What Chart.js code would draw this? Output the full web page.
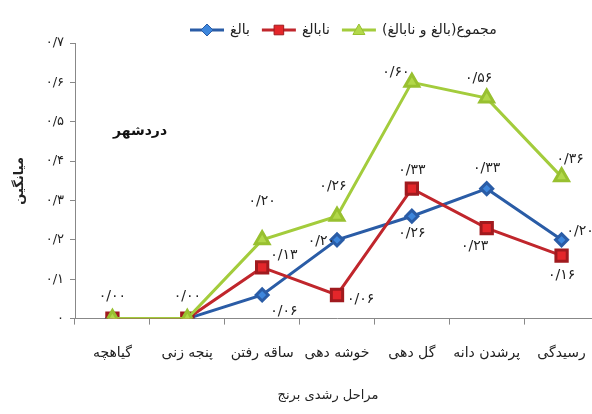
<!DOCTYPE html>
<html>
<head>
<meta charset="utf-8">
<script src="https://cdn.jsdelivr.net/npm/chart.js@4/dist/chart.umd.min.js"></script>
<style>
html,body{margin:0;padding:0;background:#fff;overflow:hidden;}
#wrap{width:592px;height:414px;overflow:hidden;}
</style>
</head>
<body>
<div id="wrap"><canvas id="c" width="610" height="414"></canvas></div>
<script>
const categories = ['گیاهچه','پنجه زنی','ساقه رفتن','خوشه دهی','گل دهی','پرشدن دانه','رسیدگی'];
const matureValues = [0, 0, 0.06, 0.20, 0.26, 0.33, 0.20];
const immatureValues = [0, 0, 0.13, 0.06, 0.33, 0.23, 0.16];
const totalValues = [0, 0, 0.20, 0.26, 0.60, 0.56, 0.36];
const seriesNames = ['بالغ','نابالغ','مجموع(بالغ و نابالغ)'];
const yTicks = [0, 0.1, 0.2, 0.3, 0.4, 0.5, 0.6, 0.7];
const yTitle = 'میانگین';
const xTitle = 'مراحل رشدی برنج';
const placeLabel = 'دردشهر';

const FONT = "'DejaVu Sans', 'Noto Sans', sans-serif";
const fa = s => String(s).replace(/\d/g, d => '۰۱۲۳۴۵۶۷۸۹'[d]);
const fmtVal = v => fa(v.toFixed(2).replace('.', '/'));
const fmtTick = v => v === 0 ? '۰' : fa(v.toFixed(1).replace('.', '/'));

const colors = {
  blueLine: '#2a5ca6', blueFill: '#3d86dc',
  redLine: '#c0262c', redFill: '#e4262a',
  greenLine: '#a3cc3c', greenFill: '#b2d84a'
};

// label placement per series (dx, dy, align) — style only
const labelPlacement = {
  0: [null, null, [8, 16, 'left'], [-2, 2, 'right'], [0, 17, 'center'], [0, -20, 'center'], [5, -8, 'left']],
  1: [null, null, [8, -12, 'left'], [10, 4, 'left'], [0, -18, 'center'], [-12, 18, 'center'], [0, 20, 'center']],
  2: [[0, -22, 'center'], [0, -22, 'center'], [0, -38, 'center'], [-4, -30, 'center'], [-16, -10, 'center'], [-8, -20, 'center'], [-5, -18, 'left']]
};

const labelPlugin = {
  id: 'valueLabels',
  afterDatasetsDraw(chart) {
    const ctx = chart.ctx;
    ctx.save();
    ctx.font = "14px " + FONT;
    ctx.fillStyle = '#222';
    ctx.textBaseline = 'middle';
    chart.data.datasets.forEach((ds, i) => {
      const meta = chart.getDatasetMeta(i);
      meta.data.forEach((pt, j) => {
        const p = labelPlacement[i][j];
        if (!p) return;
        ctx.textAlign = p[2];
        ctx.fillText(fmtVal(ds.data[j]), pt.x + p[0], pt.y + p[1]);
      });
    });
    ctx.font = "bold 14px " + FONT;
    ctx.textAlign = 'center';
    ctx.fillStyle = '#111';
    ctx.fillText(placeLabel, 140, 131);
    ctx.font = "13px " + FONT;
    ctx.fillStyle = '#222';
    ctx.direction = 'rtl';
    ctx.fillText(xTitle, 328, 396);
    ctx.restore();
  }
};

function drawMarker(ctx, style, x, y, r, fill, stroke) {
  ctx.fillStyle = fill; ctx.strokeStyle = stroke; ctx.lineWidth = 1;
  ctx.beginPath();
  if (style === 'rectRot') {
    ctx.moveTo(x, y - r); ctx.lineTo(x + r, y); ctx.lineTo(x, y + r); ctx.lineTo(x - r, y); ctx.closePath();
  } else if (style === 'rect') {
    ctx.rect(x - r * 0.8, y - r * 0.8, r * 1.6, r * 1.6);
  } else {
    ctx.moveTo(x, y - r); ctx.lineTo(x + r, y + r * 0.75); ctx.lineTo(x - r, y + r * 0.75); ctx.closePath();
  }
  ctx.fill(); ctx.stroke();
}

const legendPlugin = {
  id: 'customLegend',
  afterDraw(chart) {
    const ctx = chart.ctx;
    ctx.save();
    ctx.font = "14px " + FONT;
    ctx.textBaseline = 'middle';
    const y = 30;
    let x = 190;
    chart.data.datasets.forEach((ds, i) => {
      ctx.strokeStyle = ds.borderColor; ctx.lineWidth = 3;
      ctx.beginPath(); ctx.moveTo(x, y); ctx.lineTo(x + 34, y); ctx.stroke();
      drawMarker(ctx, ds.pointStyle, x + 17, y, 6, ds.pointBackgroundColor, ds.pointBorderColor);
      ctx.fillStyle = '#222';
      ctx.direction = 'rtl';
      const w = ctx.measureText(ds.label).width;
      ctx.textAlign = 'right';
      ctx.fillText(ds.label, x + 40 + w, y);
      x += 40 + w + 12;
    });
    ctx.restore();
  }
};

new Chart(document.getElementById('c'), {
  type: 'line',
  data: {
    labels: categories,
    datasets: [
      { label: seriesNames[0], data: matureValues, borderColor: colors.blueLine, pointBackgroundColor: colors.blueFill, pointBorderColor: colors.blueLine, pointStyle: 'rectRot', pointRadius: 6, borderWidth: 3, order: 2 },
      { label: seriesNames[1], data: immatureValues, borderColor: colors.redLine, pointBackgroundColor: colors.redFill, pointBorderColor: '#a01a1e', pointStyle: 'rect', pointRadius: 8, borderWidth: 3, order: 1 },
      { label: seriesNames[2], data: totalValues, borderColor: colors.greenLine, pointBackgroundColor: colors.greenFill, pointBorderColor: '#98c030', pointStyle: 'triangle', pointRadius: 8, borderWidth: 3, order: 0 }
    ]
  },
  options: {
    responsive: false,
    animation: false,
    devicePixelRatio: 1,
    layout: { padding: { top: 43, right: 0, bottom: 6, left: 8 } },
    plugins: { legend: { display: false }, tooltip: { enabled: false } },
    scales: {
      x: {
        offset: true,
        grid: { display: true, offset: true, drawOnChartArea: false, drawTicks: true, tickLength: 6, color: '#888' },
        border: { color: '#888', width: 1 },
        ticks: { color: '#222', font: { family: FONT, size: 14 }, padding: 20, maxRotation: 0 },
        title: { display: true, text: xTitle, color: 'rgba(0,0,0,0)', font: { family: FONT, size: 13 }, padding: { top: 7 } },
        afterFit: s => { s.paddingRight = 0; s.paddingLeft = 0; }
      },
      y: {
        min: 0, max: 0.7,
        afterBuildTicks: s => { s.ticks = yTicks.map(v => ({ value: v })); },
        grid: { display: true, drawOnChartArea: false, drawTicks: true, tickLength: 5, color: '#888' },
        border: { color: '#888', width: 1 },
        ticks: { color: '#222', font: { family: FONT, size: 13 }, padding: 6, callback: v => fmtTick(v) },
        title: { display: true, text: yTitle, color: '#222', font: { family: FONT, size: 13, weight: 'bold' }, padding: { bottom: 2 } },
        afterFit: s => { s.width = 67; }
      }
    }
  },
  plugins: [labelPlugin, legendPlugin]
});
</script>
</body>
</html>
